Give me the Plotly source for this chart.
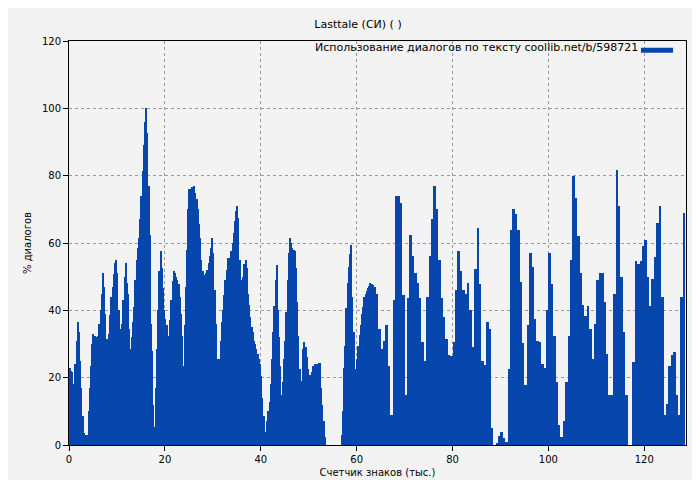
import numpy as np
import plotly.graph_objects as go

# part 1: 0 .. 63.75 step 0.25 (thousand chars)
x1 = np.arange(0, 64, 0.25)
y1 = [
23,22,21.7,18, 17.5,24,31,36.5, 33.5,25,17,8.6, 3.7,3,2,3, 10,17,23.5,30,
33,32.5,32,32, 32.5,36,40,45, 51,47,39,31.5, 28,33,38.5,44, 47,50.7,54,55,
51,40,34.5,29, 36,43,50,54, 48,45,34.5,28.5, 32,36.5,41,49, 55,58.6,61.5,67,
74,81.5,89,96, 100,92.6,77,62.5, 36,28,12,5.4, 17,28.5,40,51.7, 57.6,52.7,46.5,40,
37.4,35.5,32.5,31, 37,43,48.8,51.7, 51,50,49,47.8, 44,39,32.5,23.5, 35.5,46.8,58,70,
76,76,76.6,76.4, 76.8,75,73,70, 65.5,61.5,55,51.7, 50.5,50.5,51,52, 54,56,58.6,61.5,
57,46,36,25.6, 15.8,25.6,31,36.5, 40,44.5,49,52, 55.5,55.5,55.5,57.5, 60,63,66.5,69.5,
71,67.5,55,49, 48.8,50,53.7,55, 52.7,45,41.5,38, 35,33.7,31,30, 28.5,27,25.6,24,
20.4,14,8.6,2.8, 4,7,10,12.8, 18,25.6,33.5,41.4, 49,53.5,40,32, 23.6,15,18.7,25.6,
31,39.4,49,57, 61.4,60,58.6,58, 57.6,52.7,42.5,32.5, 22.5,12.6,19,28.5, 30.5,29,26,22.7,
19,20.7,21.7,23.6, 23.6,24,24,24, 24.3,24.4,17,12, 7,2.5,0,0, 0,0,0,0,
0,0,0,0, 0,0,0,3, 10,23,29.5,40.8, 48,53,56.6,59.5, 44,33.5,22.7,22.7,
25.6,29.4,32.7,35.5, 39,41,44,45, 45.8,46.5,47.3,48, 47.8,47.5,46.8,47,
]
# part 2: 64 .. 128 step 0.5
x2 = np.arange(64, 128.25, 0.5)
y2 = [
45,34.5, 28.4,31, 35.7,23.6, 8.9,43, 74,74, 72,44.5, 14.8,43.8, 62.5,56, 51,48, 43.8,30.5,
25,44, 56,67, 77,70, 55,43.8, 38,31.5, 26.6,26.3, 30.5,46, 57.6,51.7, 46,45, 48,40,
29,52.4, 64.5,47.8, 25,23.8, 36.6,34.5, 5,0, 0.5,2.8, 4,2.2, 1,22.7, 64,70, 68.5,64,
48.3,30.3, 17.7,35.5, 57,53, 37.4,31, 30.5,24, 22.9,40, 57,47.8, 32.5,18.7, 6,2.5, 7,18.7,
32.5,55, 80,73.4, 62,51, 41.6,38.4, 41.3,34.5, 25.6,36, 49,51, 51.2,42.4, 27,14.8, 14.8,45,
81.8,71, 50,33.5, 14.8,0, 0,24.6, 54.7,53.7, 54.7,59, 61,49.8, 41.4,49.3, 55.7,66, 71,44,
8.9,12.3, 23.6,26.8, 27.6,14.8, 8.9,44, 69,
]

title = "Lasttale (СИ) ( )"
legend_text = "Использование диалогов по тексту coollib.net/b/598721"
x_title = "Счетчик знаков (тыс.)"
y_title = "% диалогов"
color = "#0747ad"

fig = go.Figure()
fig.add_trace(go.Bar(x=x1, y=y1, width=0.26, offset=0, marker=dict(color=color, line_width=0), showlegend=False))
fig.add_trace(go.Bar(x=x2, y=y2, width=0.51, offset=0, marker=dict(color=color, line_width=0), showlegend=False))

font = dict(family="DejaVu Sans", size=10, color="#000")
axis = dict(showline=True, linecolor="#000", linewidth=1, mirror=True, ticks="outside",
            ticklen=5, tickcolor="#000", showgrid=True, gridcolor="#999", griddash="dot",
            gridwidth=1, zeroline=False, tickfont=font)
fig.update_layout(
    width=700, height=480, bargap=0,
    paper_bgcolor="#f3f3f3", plot_bgcolor="#f3f3f3",
    margin=dict(l=61, r=22, t=33, b=41),
    font=font,
    title=dict(text=title, x=0.5, xanchor="center", y=0.975, yanchor="top", font=dict(family="DejaVu Sans", size=11)),
    xaxis=dict(axis, range=[0, 128.7], dtick=20, title=dict(text=x_title, font=font, standoff=4)),
    yaxis=dict(axis, range=[0, 120], dtick=20, title=dict(text=y_title, font=font, standoff=8)),
)
fig.add_annotation(xref="paper", yref="paper", x=0.925, y=0.985, xanchor="right", yanchor="middle",
                   text=legend_text, showarrow=False, font=dict(family="DejaVu Sans", size=11))
fig.add_shape(type="line", xref="paper", yref="paper", x0=0.927, x1=0.979, y0=0.977, y1=0.977,
              line=dict(color=color, width=5))
fig.write_html("out.html")
